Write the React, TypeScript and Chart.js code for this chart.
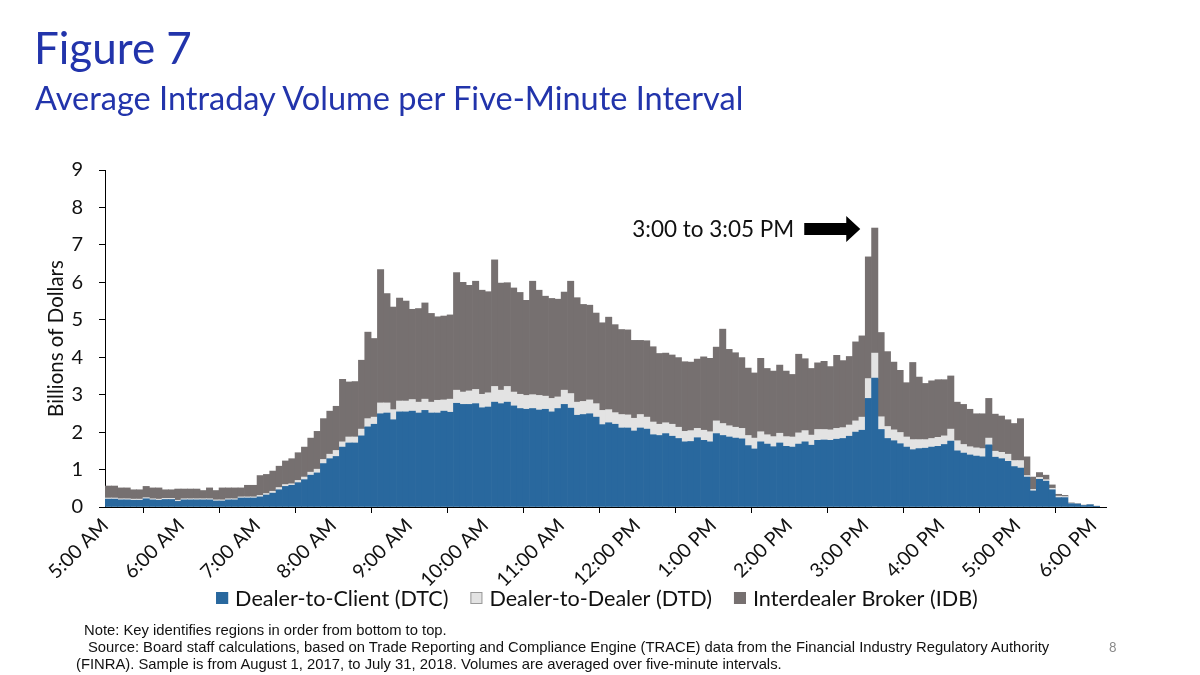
import React, { useEffect, useRef } from "react";
import { Chart, registerables } from "chart.js";

Chart.register(...registerables);

// ---- Data (billions of dollars, average per five-minute interval, 5:00 AM – 6:00 PM) ----
const hourLabels = [
  "5:00 AM", "6:00 AM", "7:00 AM", "8:00 AM", "9:00 AM", "10:00 AM", "11:00 AM",
  "12:00 PM", "1:00 PM", "2:00 PM", "3:00 PM", "4:00 PM", "5:00 PM", "6:00 PM",
];
const intervalsPerHour = 12;

const dtc = [
  0.21, 0.21, 0.19, 0.19, 0.18, 0.18, 0.22, 0.19, 0.18, 0.20, 0.20, 0.15,
  0.19, 0.19, 0.19, 0.19, 0.19, 0.16, 0.16, 0.19, 0.19, 0.24, 0.24, 0.24,
  0.27, 0.32, 0.37, 0.46, 0.55, 0.58, 0.65, 0.73, 0.85, 0.91, 1.16, 1.29,
  1.35, 1.60, 1.71, 1.71, 1.90, 2.14, 2.21, 2.49, 2.51, 2.33, 2.54, 2.54,
  2.56, 2.51, 2.58, 2.51, 2.51, 2.56, 2.53, 2.77, 2.74, 2.74, 2.76, 2.65,
  2.67, 2.80, 2.76, 2.80, 2.70, 2.63, 2.61, 2.63, 2.59, 2.61, 2.54, 2.63,
  2.74, 2.64, 2.45, 2.47, 2.49, 2.40, 2.20, 2.25, 2.21, 2.11, 2.11, 2.03,
  2.11, 2.08, 1.93, 1.91, 1.96, 1.89, 1.83, 1.74, 1.75, 1.85, 1.78, 1.74,
  1.96, 1.91, 1.87, 1.84, 1.82, 1.64, 1.55, 1.74, 1.68, 1.61, 1.71, 1.62,
  1.60, 1.68, 1.74, 1.65, 1.78, 1.79, 1.78, 1.81, 1.83, 1.89, 2.00, 2.05,
  2.90, 3.44, 2.07, 1.83, 1.77, 1.69, 1.60, 1.53, 1.56, 1.57, 1.60, 1.62,
  1.67, 1.76, 1.50, 1.44, 1.39, 1.36, 1.34, 1.66, 1.33, 1.29, 1.22, 1.08,
  1.04, 0.80, 0.43, 0.74, 0.69, 0.46, 0.25, 0.25, 0.09, 0.08, 0.04, 0.06,
  0.02,
];

const dtd = [
  0.03, 0.03, 0.03, 0.03, 0.03, 0.03, 0.03, 0.03, 0.03, 0.03, 0.03, 0.03,
  0.03, 0.03, 0.03, 0.03, 0.03, 0.03, 0.03, 0.03, 0.03, 0.03, 0.03, 0.03,
  0.04, 0.04, 0.05, 0.06, 0.05, 0.04, 0.06, 0.07, 0.08, 0.10, 0.11, 0.12,
  0.16, 0.14, 0.16, 0.16, 0.18, 0.22, 0.19, 0.29, 0.27, 0.27, 0.29, 0.29,
  0.31, 0.29, 0.30, 0.29, 0.34, 0.30, 0.35, 0.35, 0.33, 0.36, 0.38, 0.36,
  0.38, 0.42, 0.36, 0.42, 0.37, 0.38, 0.37, 0.37, 0.39, 0.35, 0.36, 0.31,
  0.38, 0.39, 0.35, 0.35, 0.37, 0.36, 0.38, 0.35, 0.31, 0.36, 0.35, 0.34,
  0.36, 0.32, 0.34, 0.30, 0.29, 0.32, 0.30, 0.28, 0.29, 0.25, 0.27, 0.27,
  0.34, 0.32, 0.30, 0.29, 0.28, 0.27, 0.29, 0.27, 0.25, 0.27, 0.26, 0.26,
  0.27, 0.30, 0.30, 0.27, 0.29, 0.28, 0.28, 0.29, 0.29, 0.30, 0.30, 0.35,
  0.53, 0.67, 0.34, 0.32, 0.29, 0.30, 0.27, 0.27, 0.24, 0.23, 0.23, 0.24,
  0.23, 0.32, 0.27, 0.23, 0.22, 0.22, 0.22, 0.18, 0.16, 0.17, 0.19, 0.16,
  0.20, 0.04, 0.04, 0.05, 0.04, 0.04, 0.04, 0.03, 0.01, 0.005, 0.005, 0.005,
  0.0,
];

const idb = [
  0.32, 0.32, 0.29, 0.29, 0.25, 0.25, 0.30, 0.29, 0.30, 0.23, 0.23, 0.30,
  0.26, 0.26, 0.26, 0.22, 0.29, 0.25, 0.32, 0.29, 0.29, 0.24, 0.31, 0.31,
  0.53, 0.51, 0.54, 0.57, 0.63, 0.67, 0.74, 0.80, 0.91, 1.01, 1.09, 1.15,
  1.18, 1.67, 1.47, 1.48, 1.84, 2.31, 2.10, 3.56, 2.92, 2.74, 2.75, 2.67,
  2.41, 2.50, 2.57, 2.37, 2.23, 2.24, 2.25, 3.14, 2.93, 2.82, 2.89, 2.78,
  2.70, 3.38, 2.86, 2.77, 2.78, 2.72, 2.54, 3.03, 2.81, 2.67, 2.67, 2.61,
  2.62, 3.00, 2.79, 2.59, 2.53, 2.42, 2.34, 2.47, 2.35, 2.27, 2.27, 2.08,
  1.98, 2.04, 2.01, 1.89, 1.86, 1.85, 1.86, 1.86, 1.83, 1.85, 1.96, 1.96,
  1.97, 2.52, 2.04, 1.99, 1.89, 1.80, 1.74, 1.96, 1.77, 1.75, 1.82, 1.75,
  1.67, 2.10, 1.92, 1.78, 1.78, 1.82, 1.69, 1.95, 1.79, 1.83, 2.11, 2.17,
  3.25, 3.34, 2.25, 2.00, 1.81, 1.66, 1.45, 2.06, 1.67, 1.50, 1.54, 1.54,
  1.50, 1.42, 1.03, 1.07, 1.00, 0.91, 0.93, 1.06, 0.99, 0.97, 0.92, 0.99,
  1.12, 0.50, 0.33, 0.13, 0.12, 0.09, 0.05, 0.03, 0.01, 0.005, 0.005, 0.005,
  0.0,
];

const yTickValues = [0, 1, 2, 3, 4, 5, 6, 7, 8, 9];

const seriesNames = ["Dealer-to-Client (DTC)", "Dealer-to-Dealer (DTD)", "Interdealer Broker (IDB)"];
const seriesColors = ["#29689E", "#E3E3E3", "#767070"];
const seriesBoxBorders = ["#29689E", "#9a9a9a", "#767070"];
const peakLabel = "3:00 to 3:05 PM";

const SANS = "Lato, 'Open Sans', sans-serif";

const totals = dtc.map((v, i) => v + dtd[i] + idb[i]);

// Arrow + label pointing at the tallest interval
const peakPlugin = {
  id: "peakNote",
  afterDatasetsDraw(chart: any) {
    const { ctx, scales } = chart;
    const x = scales.x;
    const y = scales.y;
    let peak = 0;
    totals.forEach((t, i) => { if (t > totals[peak]) peak = i; });
    const tipX = x.getPixelForValue(peak - 1) - 5;
    const cy = y.getPixelForValue(totals[peak]) + 1;
    const headLen = 14;
    const headHalf = 13;
    const shaftHalf = 6;
    const tailX = tipX - 56;
    ctx.save();
    ctx.fillStyle = "#000";
    ctx.beginPath();
    ctx.moveTo(tailX, cy - shaftHalf);
    ctx.lineTo(tipX - headLen, cy - shaftHalf);
    ctx.lineTo(tipX - headLen, cy - headHalf);
    ctx.lineTo(tipX, cy);
    ctx.lineTo(tipX - headLen, cy + headHalf);
    ctx.lineTo(tipX - headLen, cy + shaftHalf);
    ctx.lineTo(tailX, cy + shaftHalf);
    ctx.closePath();
    ctx.fill();
    ctx.fillStyle = "#111";
    ctx.font = `22.5px ${SANS}`;
    ctx.textAlign = "right";
    ctx.textBaseline = "middle";
    ctx.fillText(peakLabel, tailX - 10, cy + 1);
    ctx.restore();
  },
};

// Key drawn below the tick labels, centred like the original
const keyPlugin = {
  id: "bottomKey",
  afterDraw(chart: any) {
    const { ctx } = chart;
    const box = 12;
    const boxGap = 7;
    const itemGap = 22;
    const centerX = 597;
    const centerY = 598;
    ctx.save();
    ctx.font = `21.6px ${SANS}`;
    const widths = seriesNames.map((n) => ctx.measureText(n).width);
    const total = widths.reduce((a, w) => a + w + box + boxGap, 0) + itemGap * (seriesNames.length - 1);
    let cx = centerX - total / 2;
    ctx.textBaseline = "middle";
    ctx.textAlign = "left";
    seriesNames.forEach((name, k) => {
      ctx.fillStyle = seriesColors[k];
      ctx.fillRect(cx, centerY - box / 2, box, box);
      ctx.strokeStyle = seriesBoxBorders[k];
      ctx.lineWidth = 1;
      ctx.strokeRect(cx + 0.5, centerY - box / 2 + 0.5, box - 1, box - 1);
      ctx.fillStyle = "#111";
      ctx.fillText(name, cx + box + boxGap, centerY + 1);
      cx += box + boxGap + widths[k] + itemGap;
    });
    ctx.restore();
  },
};

function StackedChart() {
  const ref = useRef<HTMLCanvasElement | null>(null);
  useEffect(() => {
    if (!ref.current) return;
    const toPoints = (arr: number[]) => arr.map((v, i) => ({ x: i + 0.5, y: v }));
    const chart = new Chart(ref.current, {
      type: "bar",
      data: {
        datasets: [dtc, dtd, idb].map((arr, k) => ({
          label: seriesNames[k],
          data: toPoints(arr),
          backgroundColor: seriesColors[k],
          borderWidth: 0,
          barPercentage: 1,
          categoryPercentage: 1,
        })),
      },
      plugins: [peakPlugin, keyPlugin],
      options: {
        animation: false,
        responsive: false,
        maintainAspectRatio: false,
        layout: { padding: { top: 170, left: 44, right: 94, bottom: 78 } },
        plugins: {
          tooltip: { enabled: false },
          legend: { display: false },
        },
        scales: {
          x: {
            type: "linear",
            stacked: true,
            min: 0,
            max: dtc.length + 1,
            offset: false,
            grid: { display: true, drawOnChartArea: false, drawTicks: true, tickLength: 6, color: "#000" },
            border: { display: true, color: "#000" },
            afterBuildTicks: (s: any) => {
              s.ticks = hourLabels.map((_, k) => ({ value: k * intervalsPerHour }));
            },
            ticks: {
              autoSkip: false,
              minRotation: 45,
              maxRotation: 45,
              padding: 1,
              color: "#111",
              font: { family: SANS, size: 19.5 },
              callback: (v: any) => hourLabels[Math.round(Number(v) / intervalsPerHour)],
            },
            afterFit: (s: any) => { s.height = 90; },
          },
          y: {
            stacked: true,
            min: 0,
            max: 9,
            afterBuildTicks: (s: any) => { s.ticks = yTickValues.map((v) => ({ value: v })); },
            grid: { display: true, drawOnChartArea: false, drawTicks: true, tickLength: 6, color: "#000" },
            border: { display: true, color: "#000" },
            ticks: { padding: 16, color: "#111", font: { family: SANS, size: 20 } },
            title: { display: true, text: "Billions of Dollars", color: "#111", padding: 0, font: { family: SANS, size: 20.5 } },
            afterFit: (s: any) => { s.width = 61; },
          },
        },
      },
    });
    return () => chart.destroy();
  }, []);
  return <canvas ref={ref} width={1200} height={675} style={{ position: "absolute", left: 0, top: 0 }} />;
}

export default function App() {
  return (
    <div style={{ position: "absolute", left: 0, top: 0, width: 1200, height: 675, background: "#fff", overflow: "hidden" }}>
      <StackedChart />
      <div style={{ position: "absolute", left: 34, top: 25, fontFamily: SANS, fontSize: 44, color: "#2234AB", lineHeight: 1 }}>
        Figure 7
      </div>
      <div style={{ position: "absolute", left: 35, top: 82, fontFamily: SANS, fontSize: 32.5, color: "#2234AB", lineHeight: 1 }}>
        Average Intraday Volume per Five-Minute Interval
      </div>
      <div style={{ position: "absolute", left: 0, top: 622, fontFamily: "'Liberation Sans', Arial, sans-serif", fontSize: 14.8, color: "#111", lineHeight: "17px", whiteSpace: "nowrap" }}>
        <div style={{ paddingLeft: 84 }}>Note: Key identifies regions in order from bottom to top.</div>
        <div style={{ paddingLeft: 88 }}>Source: Board staff calculations, based on Trade Reporting and Compliance Engine (TRACE) data from the Financial Industry Regulatory Authority</div>
        <div style={{ paddingLeft: 76 }}>(FINRA). Sample is from August 1, 2017, to July 31, 2018. Volumes are averaged over five-minute intervals.</div>
      </div>
      <div style={{ position: "absolute", left: 1109, top: 639, fontFamily: SANS, fontSize: 13, color: "#8a8a8a" }}>8</div>
    </div>
  );
}
